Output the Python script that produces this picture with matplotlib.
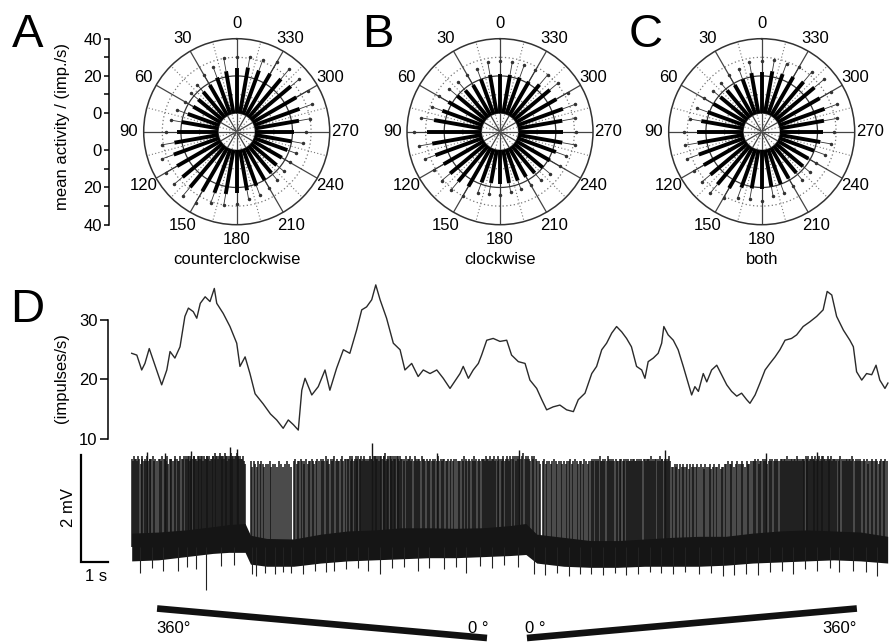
import matplotlib
matplotlib.use("Agg")
import matplotlib.pyplot as plt
import numpy as np

plt.rcParams['font.family'] = ['Liberation Sans', 'DejaVu Sans']
plt.rcParams['font.size'] = 12

# ---- dados: rosas direcionais (0..350 graus, passo 10, anti-horario a partir do topo)
direcoes = list(range(0, 360, 10))

ccw_media = [24, 23, 21, 19, 18, 17, 17, 18, 20, 22, 24, 26, 27, 28, 29, 27, 25, 24,
             23, 22, 21, 20, 19, 18, 18, 19, 20, 21, 24, 26, 27, 28, 27, 26, 25, 25]
ccw_dp = [6, 7, 6, 6, 5, 5, 5, 6, 6, 6, 7, 7, 7, 6, 6, 7, 6, 6,
          6, 5, 5, 5, 5, 5, 5, 5, 6, 6, 6, 7, 7, 6, 7, 7, 6, 6]

cw_media = [21, 21, 20, 19, 19, 20, 22, 23, 26, 29, 27, 27, 25, 25, 25, 24, 19, 18,
            18, 18, 18, 18, 19, 20, 21, 22, 24, 24, 24, 26, 25, 25, 23, 21, 21, 21]
cw_dp = [7, 7, 6, 6, 6, 6, 6, 6, 7, 7, 7, 6, 6, 6, 6, 6, 6, 6,
         6, 5, 5, 5, 5, 5, 6, 6, 7, 7, 7, 7, 7, 6, 7, 7, 7, 7]

both_media = [22, 22, 20, 19, 19, 19, 20, 21, 23, 25, 25, 26, 26, 26, 27, 25, 22, 21,
              21, 20, 20, 19, 19, 19, 19, 20, 22, 23, 24, 26, 26, 27, 25, 24, 23, 23]
both_dp = [6, 6, 6, 6, 5, 5, 6, 6, 6, 7, 7, 7, 6, 6, 6, 6, 6, 6,
           6, 5, 5, 5, 5, 5, 5, 6, 6, 6, 7, 7, 7, 7, 7, 6, 6, 6]

rotulos_angulo = [0, 30, 60, 90, 120, 150, 180, 210, 240, 270, 300, 330]

# ---- dados: taxa de disparo (s, impulsos/s)
taxa_t = [0.00, 0.19, 0.37, 0.49, 0.65, 0.86, 1.11, 1.30, 1.42, 1.60,
          1.79, 1.97, 2.10, 2.28, 2.41, 2.54, 2.72, 2.90, 3.06, 3.15,
          3.39, 3.64, 3.89, 4.01, 4.20, 4.38, 4.57, 4.87, 5.14, 5.37,
          5.61, 5.80, 5.99, 6.17, 6.30, 6.42, 6.67, 6.91, 7.16, 7.34,
          7.59, 7.84, 8.08, 8.33, 8.52, 8.70, 8.89, 9.04, 9.20, 9.44,
          9.69, 9.94, 10.12, 10.37, 10.61, 10.80, 11.05, 11.30, 11.54, 11.79,
          12.16, 12.28, 12.47, 12.65, 12.84, 12.96, 13.15, 13.39, 13.64, 13.89,
          14.07, 14.32, 14.57, 14.75, 15.00, 15.19, 15.37, 15.61, 15.86, 16.11,
          16.36, 16.54, 16.79, 17.04, 17.22, 17.41, 17.59, 17.78, 17.96, 18.15,
          18.33, 18.51, 18.70, 18.89, 19.01, 19.13, 19.32, 19.50, 19.63, 19.71,
          19.87, 20.06, 20.24, 20.43, 20.61, 20.74, 20.86, 20.99, 21.17, 21.30,
          21.48, 21.67, 21.85, 22.04, 22.22, 22.41, 22.59, 22.78, 22.90, 23.09,
          23.27, 23.46, 23.64, 23.83, 24.01, 24.20, 24.44, 24.63, 24.87, 25.12,
          25.37, 25.61, 25.76, 25.93, 26.11, 26.36, 26.60, 26.73, 26.85, 27.04,
          27.22, 27.41, 27.57, 27.71, 27.90, 28.01]
taxa_v = [24.4, 24.1, 21.6, 22.7, 25.2, 22.4, 19.1, 21.6, 24.7, 23.6,
          25.5, 30.6, 32.0, 31.4, 30.3, 32.8, 33.9, 33.1, 35.3, 32.8,
          31.1, 28.9, 26.1, 22.2, 23.8, 21.0, 17.6, 15.9, 14.2, 13.2,
          11.8, 13.2, 12.4, 11.5, 18.2, 20.2, 17.4, 18.8, 21.6, 18.2,
          21.9, 25.0, 24.4, 28.3, 31.7, 32.2, 33.4, 35.9, 33.4, 30.3,
          26.1, 25.0, 21.6, 22.7, 20.5, 21.6, 21.0, 21.6, 20.2, 18.5,
          21.0, 22.2, 20.2, 21.6, 22.7, 24.1, 26.6, 26.9, 26.4, 26.6,
          24.1, 23.0, 22.7, 19.9, 18.5, 16.6, 14.9, 15.4, 15.7, 14.9,
          14.6, 16.6, 17.7, 21.0, 22.2, 25.0, 26.1, 27.8, 28.9, 28.0,
          26.9, 25.5, 22.2, 21.6, 20.2, 23.0, 23.6, 24.4, 26.1, 28.9,
          27.5, 26.6, 25.0, 22.2, 19.4, 17.4, 18.8, 18.0, 21.0, 19.6,
          21.6, 22.4, 20.8, 19.1, 18.0, 17.2, 17.7, 16.6, 16.0, 17.4,
          19.4, 21.6, 22.7, 23.8, 25.0, 26.6, 26.9, 27.5, 28.9, 29.7,
          30.6, 31.7, 34.8, 34.2, 30.6, 28.3, 26.6, 25.5, 21.3, 19.9,
          21.0, 20.8, 22.4, 19.9, 18.5, 19.4]

# ---- dados: registro extracelular (mV)
# instantes dos disparos dentro de cada segundo, em centesimos de segundo
disparos = [
    [2, 4, 9, 14, 15, 21, 25, 27, 33, 38, 40, 44, 50, 53, 55, 61, 66, 68, 73, 79, 82, 88, 94],
    [0, 6, 8, 13, 19, 22, 28, 31, 34, 41, 44, 47, 53, 59, 61, 66, 72, 74, 80, 86, 89, 95],
    [0, 2, 7, 9, 12, 17, 19, 21, 26, 30, 32, 35, 40, 42, 45, 49, 51, 56, 58, 60, 65, 68, 70, 74, 78, 80, 84, 88, 90, 94, 97],
    [1, 3, 8, 10, 14, 15, 19, 24, 26, 29, 33, 34, 38, 42, 44, 49, 51, 54, 56, 61, 63, 66, 70, 72, 77, 79, 82, 87, 89, 92, 95, 98],
    [2, 5, 9, 12, 17, 20, 43, 47, 53, 58, 64, 67, 74, 80, 86, 91, 97],
    [4, 11, 15, 24, 31, 37, 45, 52, 60, 66, 75, 83, 90],
    [2, 6, 12, 15, 21, 26, 30, 37, 40, 45, 52, 55, 61, 67, 72, 76, 83, 88, 94],
    [0, 5, 8, 14, 20, 23, 28, 31, 37, 42, 45, 50, 56, 60, 63, 69, 75, 78, 84, 89, 95],
    [1, 3, 8, 12, 15, 17, 22, 26, 29, 33, 35, 39, 44, 47, 50, 52, 57, 62, 64, 68, 73, 75, 79, 83, 86, 90, 94, 97],
    [0, 4, 6, 10, 12, 16, 20, 23, 25, 29, 33, 36, 38, 42, 46, 49, 51, 55, 59, 62, 64, 68, 72, 75, 77, 81, 85, 88, 91, 94, 98],
    [2, 7, 10, 15, 18, 23, 28, 32, 35, 40, 45, 49, 52, 57, 62, 66, 69, 75, 79, 83, 88, 92, 97],
    [1, 6, 12, 16, 19, 25, 31, 35, 39, 44, 50, 54, 57, 63, 69, 73, 78, 83, 89, 94],
    [3, 8, 11, 17, 23, 26, 31, 37, 40, 45, 51, 54, 59, 63, 69, 73, 76, 82, 88, 91, 96],
    [0, 4, 7, 12, 16, 19, 23, 28, 31, 35, 40, 43, 47, 50, 55, 58, 62, 67, 70, 74, 77, 82, 85, 89, 94, 97],
    [1, 5, 11, 14, 19, 24, 28, 32, 36, 42, 45, 50, 55, 59, 63, 68, 72, 77, 82, 86, 91, 96],
    [3, 9, 14, 22, 27, 33, 40, 45, 52, 58, 64, 70, 77, 83, 89, 95],
    [2, 7, 14, 19, 25, 31, 36, 43, 48, 54, 60, 65, 72, 77, 83, 89, 94],
    [0, 5, 8, 13, 18, 21, 26, 29, 34, 39, 42, 47, 51, 54, 59, 64, 68, 71, 76, 80, 83, 88, 93, 97],
    [2, 7, 10, 13, 18, 22, 25, 30, 33, 37, 41, 44, 49, 52, 56, 61, 64, 67, 72, 75, 79, 84, 87, 91, 96],
    [1, 4, 8, 13, 16, 20, 25, 28, 31, 36, 39, 43, 48, 51, 55, 58, 63, 66, 70, 75, 78, 82, 87, 90, 94],
    [0, 6, 11, 17, 21, 27, 32, 38, 42, 47, 54, 58, 63, 69, 74, 79, 84, 90, 95],
    [3, 9, 15, 20, 24, 31, 37, 42, 46, 53, 58, 65, 69, 75, 81, 86, 91, 97],
    [2, 8, 15, 19, 25, 32, 37, 41, 48, 55, 60, 64, 71, 78, 83, 88, 94],
    [0, 5, 10, 14, 18, 24, 27, 32, 37, 41, 45, 51, 54, 59, 64, 68, 72, 78, 81, 86, 91, 95],
    [1, 4, 9, 12, 15, 20, 23, 26, 31, 34, 37, 42, 45, 48, 53, 56, 59, 64, 67, 70, 75, 78, 81, 86, 89, 92, 96],
    [0, 3, 5, 9, 13, 15, 19, 23, 26, 28, 32, 35, 39, 42, 44, 48, 52, 55, 58, 61, 65, 68, 70, 74, 78, 81, 83, 87, 91, 94, 97],
    [1, 6, 9, 13, 18, 21, 25, 30, 33, 37, 42, 45, 49, 54, 57, 61, 66, 69, 73, 78, 81, 85, 90, 93, 97],
    [2, 8, 12, 17, 23, 27, 32, 38, 42, 47, 53, 57, 62, 68, 72, 77, 83, 87, 92, 97],
]
# altura de cada disparo: digito d -> 1.30 + 0.05*d mV
alturas = [
    "76877687578676867778676",
    "7768776857776787668778",
    "7887867878877687887868778878677",
    "88978878987887988687898787889887",
    "87786564654656545",
    "5645546545654",
    "6756676567566765676",
    "767686757678676678677",
    "7786876787687786787676787768",
    "8787868787889678787868787878687",
    "77686778676876776877676",
    "67676768676776676767",
    "766676867676768676767",
    "77687768677867687767867876",
    "8787868787897878768787",
    "6656756656765665",
    "65667567656657656",
    "676767678667676876767676",
    "6767667767667677667676767",
    "7677768676776786776776786",
    "4454535454453545445",
    "454354453454453445",
    "56556456556546556",
    "6676756676765676767676",
    "677677686767767768767677678",
    "7786778767867786786877678677867",
    "7767678767677677687676767",
    "66767566766765676676",
]
altos_t = [0.55, 1.25, 2.20, 3.65, 3.90, 8.90, 11.30, 14.35, 19.75, 23.50, 25.40]
altos_v = [1.78, 1.76, 1.80, 1.87, 1.84, 1.94, 1.76, 1.81, 1.81, 1.76, 1.78]
quedas_t = [0.30, 0.75, 1.15, 1.70, 2.05, 2.40, 2.75, 3.30, 3.80, 4.45,
            4.60, 4.95, 5.30, 5.60, 5.90, 6.35, 6.80, 7.20, 7.50, 7.95,
            8.40, 8.75, 9.20, 9.65, 10.10, 10.60, 11.00, 11.55, 12.00, 12.40,
            12.90, 13.35, 13.80, 14.30, 14.90, 15.30, 15.75, 16.20, 16.60, 17.00,
            17.45, 17.90, 18.30, 18.75, 19.20, 19.60, 20.05, 20.50, 21.00, 21.45,
            21.90, 22.30, 22.75, 23.20, 23.65, 24.10, 24.50, 24.95, 25.40, 25.85,
            26.20, 26.70, 27.20, 27.60]
quedas_v = [-0.48, -0.40, -0.44, -0.45, -0.38, -0.42, -0.80, -0.36, -0.34, -0.50,
            -0.55, -0.48, -0.50, -0.46, -0.48, -0.50, -0.44, -0.46, -0.45, -0.42,
            -0.40, -0.44, -0.50, -0.40, -0.38, -0.45, -0.40, -0.42, -0.38, -0.48,
            -0.36, -0.40, -0.34, -0.38, -0.50, -0.52, -0.48, -0.55, -0.50, -0.50,
            -0.52, -0.48, -0.52, -0.50, -0.46, -0.48, -0.50, -0.46, -0.50, -0.48,
            -0.55, -0.52, -0.50, -0.52, -0.46, -0.44, -0.50, -0.42, -0.44, -0.40,
            -0.47, -0.45, -0.46, -0.55]
# faixa de ruido
faixa_t = [0, 1, 2, 3, 3.6, 4.2, 4.4, 5, 6, 7, 8, 9, 10, 11, 12, 13, 14, 14.6,
           15, 16, 17, 18, 19, 20, 21, 22, 23, 24, 25, 26, 27, 28]
faixa_sup = [0.26, 0.28, 0.32, 0.38, 0.42, 0.44, 0.22, 0.16, 0.15, 0.24, 0.30, 0.32,
             0.36, 0.36, 0.35, 0.36, 0.40, 0.44, 0.24, 0.18, 0.12, 0.12, 0.15, 0.18,
             0.20, 0.20, 0.26, 0.30, 0.32, 0.30, 0.28, 0.20]
faixa_inf = [-0.26, -0.24, -0.18, -0.12, -0.10, -0.10, -0.32, -0.36, -0.36, -0.30, -0.26, -0.24,
             -0.22, -0.20, -0.20, -0.18, -0.16, -0.14, -0.30, -0.36, -0.38, -0.38, -0.36, -0.36,
             -0.36, -0.34, -0.30, -0.28, -0.26, -0.24, -0.26, -0.30]

# ---- estimulo (rotacao do padrao)
estim_esq_t = [0.94, 13.16]
estim_esq_a = [360, 0]
estim_dir_t = [14.64, 26.86]
estim_dir_a = [0, 360]

W, H = 890, 642
fig = plt.figure(figsize=(W / 100, H / 100), dpi=100)


def caixa(x0, y0, x1, y1):
    # caixa em pixels (origem no topo) -> fracao da figura
    return [x0 / W, 1 - y1 / H, (x1 - x0) / W, (y1 - y0) / H]


R0 = 10   # deslocamento do zero radial
RAIO_PX = 93
CY = 131.7


def desenhar_rosa(cx, media, dp, legenda):
    ax = fig.add_axes(caixa(cx - RAIO_PX, CY - RAIO_PX, cx + RAIO_PX, CY + RAIO_PX),
                      projection='polar')
    ax.set_theta_zero_location('N')
    ax.set_theta_direction(1)
    ax.set_ylim(-R0, 40)
    ax.set_xticks([])
    ax.set_yticks([])
    ax.grid(False)
    ax.spines['polar'].set_color('#333333')
    ax.spines['polar'].set_linewidth(1.1)

    anel = np.linspace(0, 2 * np.pi, 361)
    for r, estilo, cor in [(0, '-', '#333333'), (10, (0, (1, 2)), '#777777'),
                           (20, '-', '#333333'), (30, (0, (1, 2)), '#777777')]:
        ax.plot(anel, np.full_like(anel, r), linestyle=estilo, color=cor, lw=0.9, zorder=1)
    for a in range(0, 360, 15):
        if a % 30 == 0:
            ax.plot([np.deg2rad(a)] * 2, [-R0, 40], color='#444444', lw=0.9, zorder=1)
        else:
            ax.plot([np.deg2rad(a)] * 2, [-R0, 40], color='#777777', lw=0.8,
                    linestyle=(0, (1, 2)), zorder=1)

    th = np.deg2rad(direcoes)
    media = np.array(media, dtype=float)
    dp = np.array(dp, dtype=float)
    ax.vlines(th, 0, media, color='black', lw=2.8, zorder=3)
    ax.vlines(th, media, media + dp, color='#333333', lw=0.6, zorder=3)
    ax.plot(th, media + dp, 'o', ms=1.5, color='#333333', zorder=4)

    for a in rotulos_angulo:
        ax.text(np.deg2rad(a), 48, str(a), ha='center', va='center', fontsize=12,
                clip_on=False)
    fig.text(cx / W, 1 - 259 / H, legenda, ha='center', va='center', fontsize=12)
    return ax


desenhar_rosa(236.7, ccw_media, ccw_dp, 'counterclockwise')
desenhar_rosa(500.0, cw_media, cw_dp, 'clockwise')
desenhar_rosa(761.7, both_media, both_dp, 'both')

# eixo de escala da rosa A
sax = fig.add_axes(caixa(109.3, CY - RAIO_PX, 115, CY + RAIO_PX))
sax.set_ylim(-(40 + R0), 40 + R0)
sax.set_xlim(0, 1)
sax.patch.set_visible(False)
for lado in ['top', 'right', 'bottom']:
    sax.spines[lado].set_visible(False)
sax.spines['left'].set_linewidth(1.1)
sax.set_xticks([])
sax.set_yticks([-50, -30, -10, 10, 30, 50])
sax.set_yticklabels(['40', '20', '0', '0', '20', '40'])
sax.set_yticks([-40, -20, 20, 40], minor=True)
sax.tick_params(axis='y', which='both', direction='out', length=3.5, width=1.1,
                pad=2, labelsize=12)
fig.text(62.5 / W, 1 - 127 / H, 'mean activity / (imp./s)', rotation=90,
         ha='center', va='center', fontsize=12)

# taxa de disparo
rax = fig.add_axes(caixa(108, 280, 889, 439))
rax.plot(taxa_t, taxa_v, color='#2a2a2a', lw=1.0)
rax.set_xlim(-0.878, 28.05)
rax.set_ylim(10, 36.72)
rax.patch.set_visible(False)
for lado in ['top', 'right', 'bottom']:
    rax.spines[lado].set_visible(False)
rax.spines['left'].set_bounds(10, 30)
rax.spines['left'].set_linewidth(1.1)
rax.set_xticks([])
rax.set_yticks([10, 20, 30])
rax.tick_params(axis='y', direction='out', length=5.5, width=1.1, pad=2, labelsize=12)
fig.text(62 / W, 1 - 378 / H, '(impulses/s)', rotation=90, ha='center', va='center',
         fontsize=12)

# registro bruto
kax = fig.add_axes(caixa(70, 440, 889, 595))
kax.set_xlim(-2.285, 28.05)
kax.set_ylim(-0.897, 2.0)
kax.axis('off')
kax.fill_between(faixa_t, faixa_inf, faixa_sup, color='#151515', lw=0)
tempos, topos = [], []
for seg, (linha, cod) in enumerate(zip(disparos, alturas)):
    assert len(linha) == len(cod)
    for c, d in zip(linha, cod):
        tempos.append(seg + c / 100)
        topos.append(1.30 + 0.05 * int(d))
kax.vlines(tempos, 0, topos, color='#151515', lw=1.1)
kax.vlines(altos_t, 0, altos_v, color='#151515', lw=1.0)
kax.vlines(quedas_t, 0, quedas_v, color='#222222', lw=0.8)
# barra de escala
kax.plot([-1.86, -1.86, -0.86], [1.72, -0.275, -0.275], color='black', lw=1.6,
         solid_joinstyle='miter', clip_on=False)
kax.text(-2.34, 0.73, '2 mV', rotation=90, ha='center', va='center', fontsize=12,
         clip_on=False)
kax.text(-1.32, -0.56, '1 s', ha='center', va='center', fontsize=12)

# estimulo
tax = fig.add_axes(caixa(70, 598, 889, 642))
tax.set_xlim(-2.285, 28.05)
tax.set_ylim(-48.8, 488.1)
tax.axis('off')
tax.plot(estim_esq_t, estim_esq_a, color='#111111', lw=4.8, solid_capstyle='butt')
tax.plot(estim_dir_t, estim_dir_a, color='#111111', lw=4.8, solid_capstyle='butt')
fonte_estreita = ['Liberation Sans Narrow', 'Liberation Sans', 'DejaVu Sans']
tax.text(0.90, 116, '360°', ha='left', va='center', fontsize=12, family=fonte_estreita)
tax.text(13.20, 116, '0 °', ha='right', va='center', fontsize=12, family=fonte_estreita)
tax.text(14.57, 116, '0 °', ha='left', va='center', fontsize=12, family=fonte_estreita)
tax.text(26.86, 116, '360°', ha='right', va='center', fontsize=12, family=fonte_estreita)

# letras dos paineis
for letra, x, base in [('A', 12, 47), ('B', 362, 47), ('C', 629, 47), ('D', 10, 322)]:
    fig.text(x / W, 1 - base / H, letra, fontsize=34, ha='left', va='baseline')

fig.savefig('out.png', dpi=100)
